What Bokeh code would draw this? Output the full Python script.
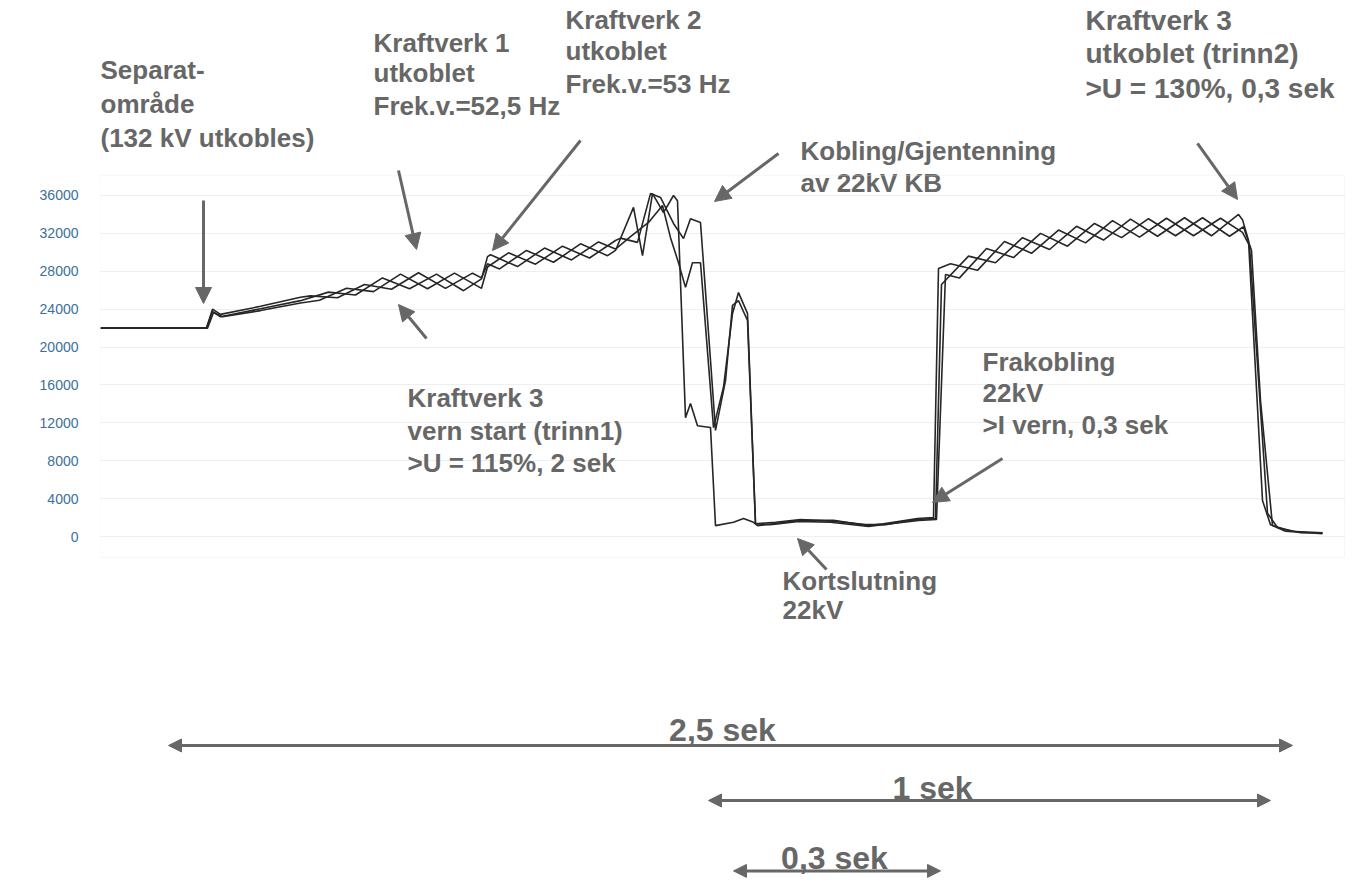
from math import pi
from bokeh.plotting import figure
from bokeh.models import (Range1d, FixedTicker, Arrow, NormalHead, Label,
                          BoxAnnotation, ColumnDataSource)
from bokeh.embed import file_html
from bokeh.resources import INLINE
from bokeh.core.properties import value

# ---------------- data (time in ms, voltage in V) ----------------
t_a = [0, 265, 280, 300, 400, 500, 525, 592.5, 660, 727.5, 795, 862.5, 930, 952.5,
       967.5, 997.5, 1065, 1132.5, 1200, 1267.5, 1287.5, 1332.5, 1355, 1380, 1407.5,
       1432.5, 1442.5, 1462.5, 1475, 1492.5, 1525, 1537.5, 1582.5, 1607.5, 1632.5,
       1642.5, 1682.5, 1750, 1832.5, 1917.5, 1957.5, 2042.5, 2082.5, 2095, 2125,
       2192.5, 2260, 2327.5, 2395, 2462.5, 2530, 2597.5, 2665, 2732.5, 2800, 2855,
       2872.5, 2917.5, 2942.5, 3000, 3055]
v_a = [22000, 22000, 24000, 23450, 24300, 25250, 25400, 25200, 26600, 26100, 27850,
       26200, 27800, 27300, 28800, 28250, 30200, 28950, 30900, 29650, 30200, 34750,
       29650, 36200, 34200, 36000, 35450, 12550, 14050, 11700, 11500, 1150, 1500,
       1900, 1500, 1150, 1350, 1700, 1700, 1150, 1350, 1900, 2000, 28300, 28800,
       28100, 31150, 29900, 32350, 31000, 33350, 31600, 33600, 31750, 33600, 32100,
       30700, 2450, 950, 400, 400]

t_b = [0, 265, 280, 300, 400, 500, 570, 637.5, 705, 772.5, 840, 907.5, 952.5, 967.5,
       975, 1042.5, 1110, 1177.5, 1245, 1287.5, 1325, 1370, 1405, 1425, 1445, 1462.5,
       1480, 1500, 1532.5, 1557.5, 1580, 1595, 1617.5, 1637.5, 1687.5, 1750, 1837.5,
       1912.5, 1962.5, 2037.5, 2087.5, 2102.5, 2170, 2237.5, 2305, 2372.5, 2440,
       2507.5, 2575, 2642.5, 2710, 2777.5, 2845, 2855, 2870, 2905, 2925, 2975, 3055]
v_b = [22000, 22000, 23750, 23200, 24050, 24900, 25800, 25500, 27300, 26150, 27700,
       25950, 27200, 29550, 29750, 28500, 30450, 29200, 31100, 30350, 31650, 33150,
       34950, 31550, 28900, 26300, 28900, 28900, 11500, 15750, 23550, 25750, 23550,
       1350, 1500, 1800, 1600, 1250, 1250, 1800, 1900, 26600, 29600, 28900, 31550,
       30300, 32750, 31300, 33500, 31700, 33650, 31750, 34000, 33450, 31250, 3800,
       1250, 550, 400]

t_c = [0, 267.5, 282.5, 305, 400, 500, 547.5, 615, 682.5, 750, 817.5, 885, 952.5,
       967.5, 1020, 1087.5, 1155, 1222.5, 1287.5, 1300, 1342.5, 1375, 1400, 1432.5,
       1457.5, 1475, 1500, 1525, 1537.5, 1562.5, 1580, 1595, 1617.5, 1637.5, 1675,
       1745, 1825, 1920, 1955, 2045, 2090, 2112.5, 2147.5, 2215, 2282.5, 2350, 2417.5,
       2485, 2552.5, 2620, 2687.5, 2755, 2822.5, 2857.5, 2877.5, 2900, 2930, 2962.5,
       3055]
v_c = [22000, 22000, 23650, 23200, 23850, 24650, 24950, 26200, 25850, 27700, 26150,
       27800, 26200, 28450, 29950, 28750, 30650, 29400, 31250, 31500, 31050, 36200,
       35800, 33050, 31450, 33550, 33150, 18600, 11200, 16450, 24400, 24900, 22800,
       1350, 1250, 1600, 1500, 1050, 1250, 1700, 1800, 27650, 27300, 30400, 29450,
       32000, 30650, 33050, 31550, 33550, 31750, 33650, 31700, 32700, 30200, 14350,
       1150, 550, 300]

y_ticks = [0, 4000, 8000, 12000, 16000, 20000, 24000, 28000, 32000, 36000]
y_title = "[Volt]"

# annotation texts (left-aligned), positions in data units
note_text = ["Separat-", "område", "(132 kV utkobles)",
             "Kraftverk 1", "utkoblet", "Frek.v.=52,5 Hz",
             "Kraftverk 2", "utkoblet", "Frek.v.=53 Hz",
             "Kobling/Gjentenning", "av 22kV KB",
             "Kraftverk 3", "vern start (trinn1)", ">U = 115%, 2 sek",
             "Frakobling", "22kV", ">I vern, 0,3 sek",
             "Kortslutning", "22kV"]
note_x = [0, 0, 0,
          682.5, 682.5, 682.5,
          1162.5, 1162.5, 1162.5,
          1750, 1750,
          767.5, 767.5, 767.5,
          2205, 2205, 2205,
          1705, 1705]
note_y = [49200, 45700, 42100,
          52050, 48900, 45500,
          54580, 51300, 47820,
          40750, 37270,
          14570, 11190, 7810,
          18370, 15100, 11720,
          -4650, -7810]

# top-right note (slightly larger type)
tr_text = ["Kraftverk 3", "utkoblet (trinn2)", ">U = 130%, 0,3 sek"]
tr_x = [2462.5, 2462.5, 2462.5]
tr_y = [54470, 50990, 47300]

# duration labels (centered)
dur_text = ["2,5 sek", "1 sek", "0,3 sek"]
dur_x = [1555, 2080, 1835]
dur_y = [-20380, -26500, -33890]
dur_x0 = [170, 1520, 1582.5]
dur_x1 = [2980, 2925, 2100]
dur_ya = [-22060, -27870, -35300]

# pointer arrows
arr_x0 = [257.5, 745, 1200, 1695, 2742.5, 815, 2255, 1815]
arr_y0 = [35470, 38640, 41810, 40430, 41490, 20900, 8230, -3480]
arr_x1 = [257.5, 790, 980, 1535, 2842.5, 745, 2080, 1742.5]
arr_y1 = [24600, 30300, 30190, 35370, 35580, 24490, 3590, -210]

# ---------------- figure ----------------
p = figure(width=1355, height=882, output_backend="svg", toolbar_location=None,
           x_range=Range1d(0, 3112.5), y_range=Range1d(-36527, 56586),
           x_axis_location=None, min_border_left=100, min_border_right=10,
           min_border_top=0, min_border_bottom=0)
p.outline_line_color = None
p.background_fill_color = "white"
p.xgrid.visible = False
p.ygrid.ticker = FixedTicker(ticks=y_ticks)
p.ygrid.grid_line_color = "#efefef"

ax = p.yaxis[0]
ax.ticker = FixedTicker(ticks=y_ticks)
ax.axis_line_color = None
ax.major_tick_line_color = None
ax.minor_tick_line_color = None
ax.major_label_text_color = "#3b6f9c"
ax.major_label_text_font = "Liberation Sans"
ax.major_label_text_font_size = "14px"
ax.major_label_standoff = 16

# chart box
p.add_layout(BoxAnnotation(left=0, right=3110, top=38100, bottom=-2200,
                           fill_alpha=0, line_color="#e4e4e4", line_width=1))

p.add_layout(Label(x=-207.5, y=18050, text=y_title, angle=pi / 2,
                   text_align="center", text_baseline="middle",
                   text_font="Liberation Sans", text_font_style="bold",
                   text_font_size="13px", text_color="#222222"))

for t, v in ((t_a, v_a), (t_b, v_b), (t_c, v_c)):
    p.line(t, v, line_color="#262626", line_width=1.6)

gray = "#676767"
src_note = ColumnDataSource(dict(x=note_x, y=note_y, text=note_text))
p.text(x="x", y="y", text="text", source=src_note, text_font=value("Liberation Sans"),
       text_font_style="bold", text_font_size="26px", text_color=gray,
       text_baseline="middle", text_align="left")

src_tr = ColumnDataSource(dict(x=tr_x, y=tr_y, text=tr_text))
p.text(x="x", y="y", text="text", source=src_tr, text_font=value("Liberation Sans"),
       text_font_style="bold", text_font_size="28px", text_color=gray,
       text_baseline="middle", text_align="left")

src_dur = ColumnDataSource(dict(x=dur_x, y=dur_y, text=dur_text))
p.text(x="x", y="y", text="text", source=src_dur, text_font=value("Liberation Sans"),
       text_font_style="bold", text_font_size="32px", text_color=gray,
       text_baseline="middle", text_align="center")

src_arr = ColumnDataSource(dict(x0=arr_x0, y0=arr_y0, x1=arr_x1, y1=arr_y1))
p.add_layout(Arrow(end=NormalHead(size=16, fill_color=gray, line_color=gray),
                   x_start="x0", y_start="y0", x_end="x1", y_end="y1",
                   source=src_arr, line_color=gray, line_width=3))

src_dur_arr = ColumnDataSource(dict(x0=dur_x0, x1=dur_x1, y=dur_ya))
p.add_layout(Arrow(start=NormalHead(size=13, fill_color=gray, line_color=gray),
                   end=NormalHead(size=13, fill_color=gray, line_color=gray),
                   x_start="x0", y_start="y", x_end="x1", y_end="y",
                   source=src_dur_arr, line_color=gray, line_width=3))

open("out.html", "w").write(file_html(p, INLINE))
